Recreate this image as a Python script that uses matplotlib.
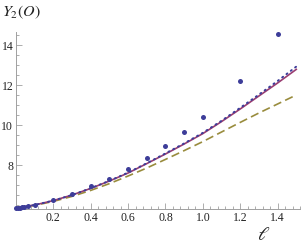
import matplotlib
matplotlib.use("Agg")
import matplotlib.pyplot as plt
from matplotlib.ticker import MultipleLocator

plt.rcParams["mathtext.fontset"] = "stix"
plt.rcParams["font.family"] = ["Liberation Serif", "DejaVu Serif"]

# data points (big dots)
x_pts = [0.0, 0.01, 0.02, 0.03, 0.045, 0.065, 0.1, 0.2, 0.3, 0.4, 0.5,
         0.6, 0.7, 0.8, 0.9, 1.0, 1.2, 1.4]
y_pts = [5.86, 5.86, 5.87, 5.88, 5.9, 5.95, 6.01, 6.25, 6.55, 6.95, 7.32,
         7.82, 8.33, 8.97, 9.63, 10.4, 12.22, 14.53]

x_curve = [0.0, 0.1, 0.2, 0.3, 0.4, 0.5, 0.6, 0.7, 0.8, 0.9, 1.0,
           1.1, 1.2, 1.3, 1.4, 1.5]
y_solid = [5.85, 6.0, 6.22, 6.5, 6.83, 7.2, 7.6, 8.07, 8.55, 9.05, 9.57,
           10.17, 10.8, 11.45, 12.1, 12.78]
y_dotted = [5.85, 6.0, 6.22, 6.5, 6.84, 7.21, 7.62, 8.09, 8.58, 9.08, 9.61,
            10.21, 10.86, 11.52, 12.2, 12.92]
y_dashed = [5.85, 5.98, 6.18, 6.43, 6.73, 7.07, 7.45, 7.85, 8.28, 8.72, 9.17,
            9.65, 10.13, 10.6, 11.05, 11.5]

blue = "#3d3d99"
purple = "#993d71"
olive = "#998c3d"
gray = "#a0a0a0"

fig = plt.figure(figsize=(3.05, 2.46), dpi=100)
ax = fig.add_axes([16 / 305, 37 / 246, 284 / 305, 177 / 246])

ax.plot(x_curve, y_dashed, color=olive, lw=1.2, linestyle=(0, (5, 2.6)))
ax.plot(x_curve, y_solid, color=purple, lw=1.2)
ax.plot(x_curve, y_dotted, color=blue, lw=1.4, linestyle=(0, (0.6, 2.2)),
        dash_capstyle="round")
ax.plot(x_pts, y_pts, "o", color=blue, ms=3.6, mec="none", zorder=5, clip_on=False)

ax.set_xlim(0, 1.52)
ax.set_ylim(5.8, 14.65)

for s in ["top", "right"]:
    ax.spines[s].set_visible(False)
for s in ["left", "bottom"]:
    ax.spines[s].set_color(gray)
    ax.spines[s].set_linewidth(0.7)

ax.xaxis.set_major_locator(MultipleLocator(0.2))
ax.xaxis.set_minor_locator(MultipleLocator(0.04))
ax.yaxis.set_major_locator(MultipleLocator(2))
ax.yaxis.set_minor_locator(MultipleLocator(0.5))
ax.set_xticks([0.2, 0.4, 0.6, 0.8, 1.0, 1.2, 1.4])
ax.set_xticklabels(["0.2", "0.4", "0.6", "0.8", "1.0", "1.2", "1.4"])
ax.set_yticks([8, 10, 12, 14])
ax.tick_params(which="both", direction="in", color=gray, width=0.6,
               labelsize=8.5, labelcolor="#222222", pad=2)
ax.tick_params(which="major", length=4)
ax.tick_params(which="minor", length=2.3)

fig.text(2 / 305, 1 - 16 / 246, r"$Y_2(O)$", fontsize=11.5, color="#222222")
fig.text(264 / 305, 1 - 236 / 246, r"$\ell$", fontsize=14, color="#222222",
         ha="center", va="center")

fig.savefig("out.png", dpi=100)
